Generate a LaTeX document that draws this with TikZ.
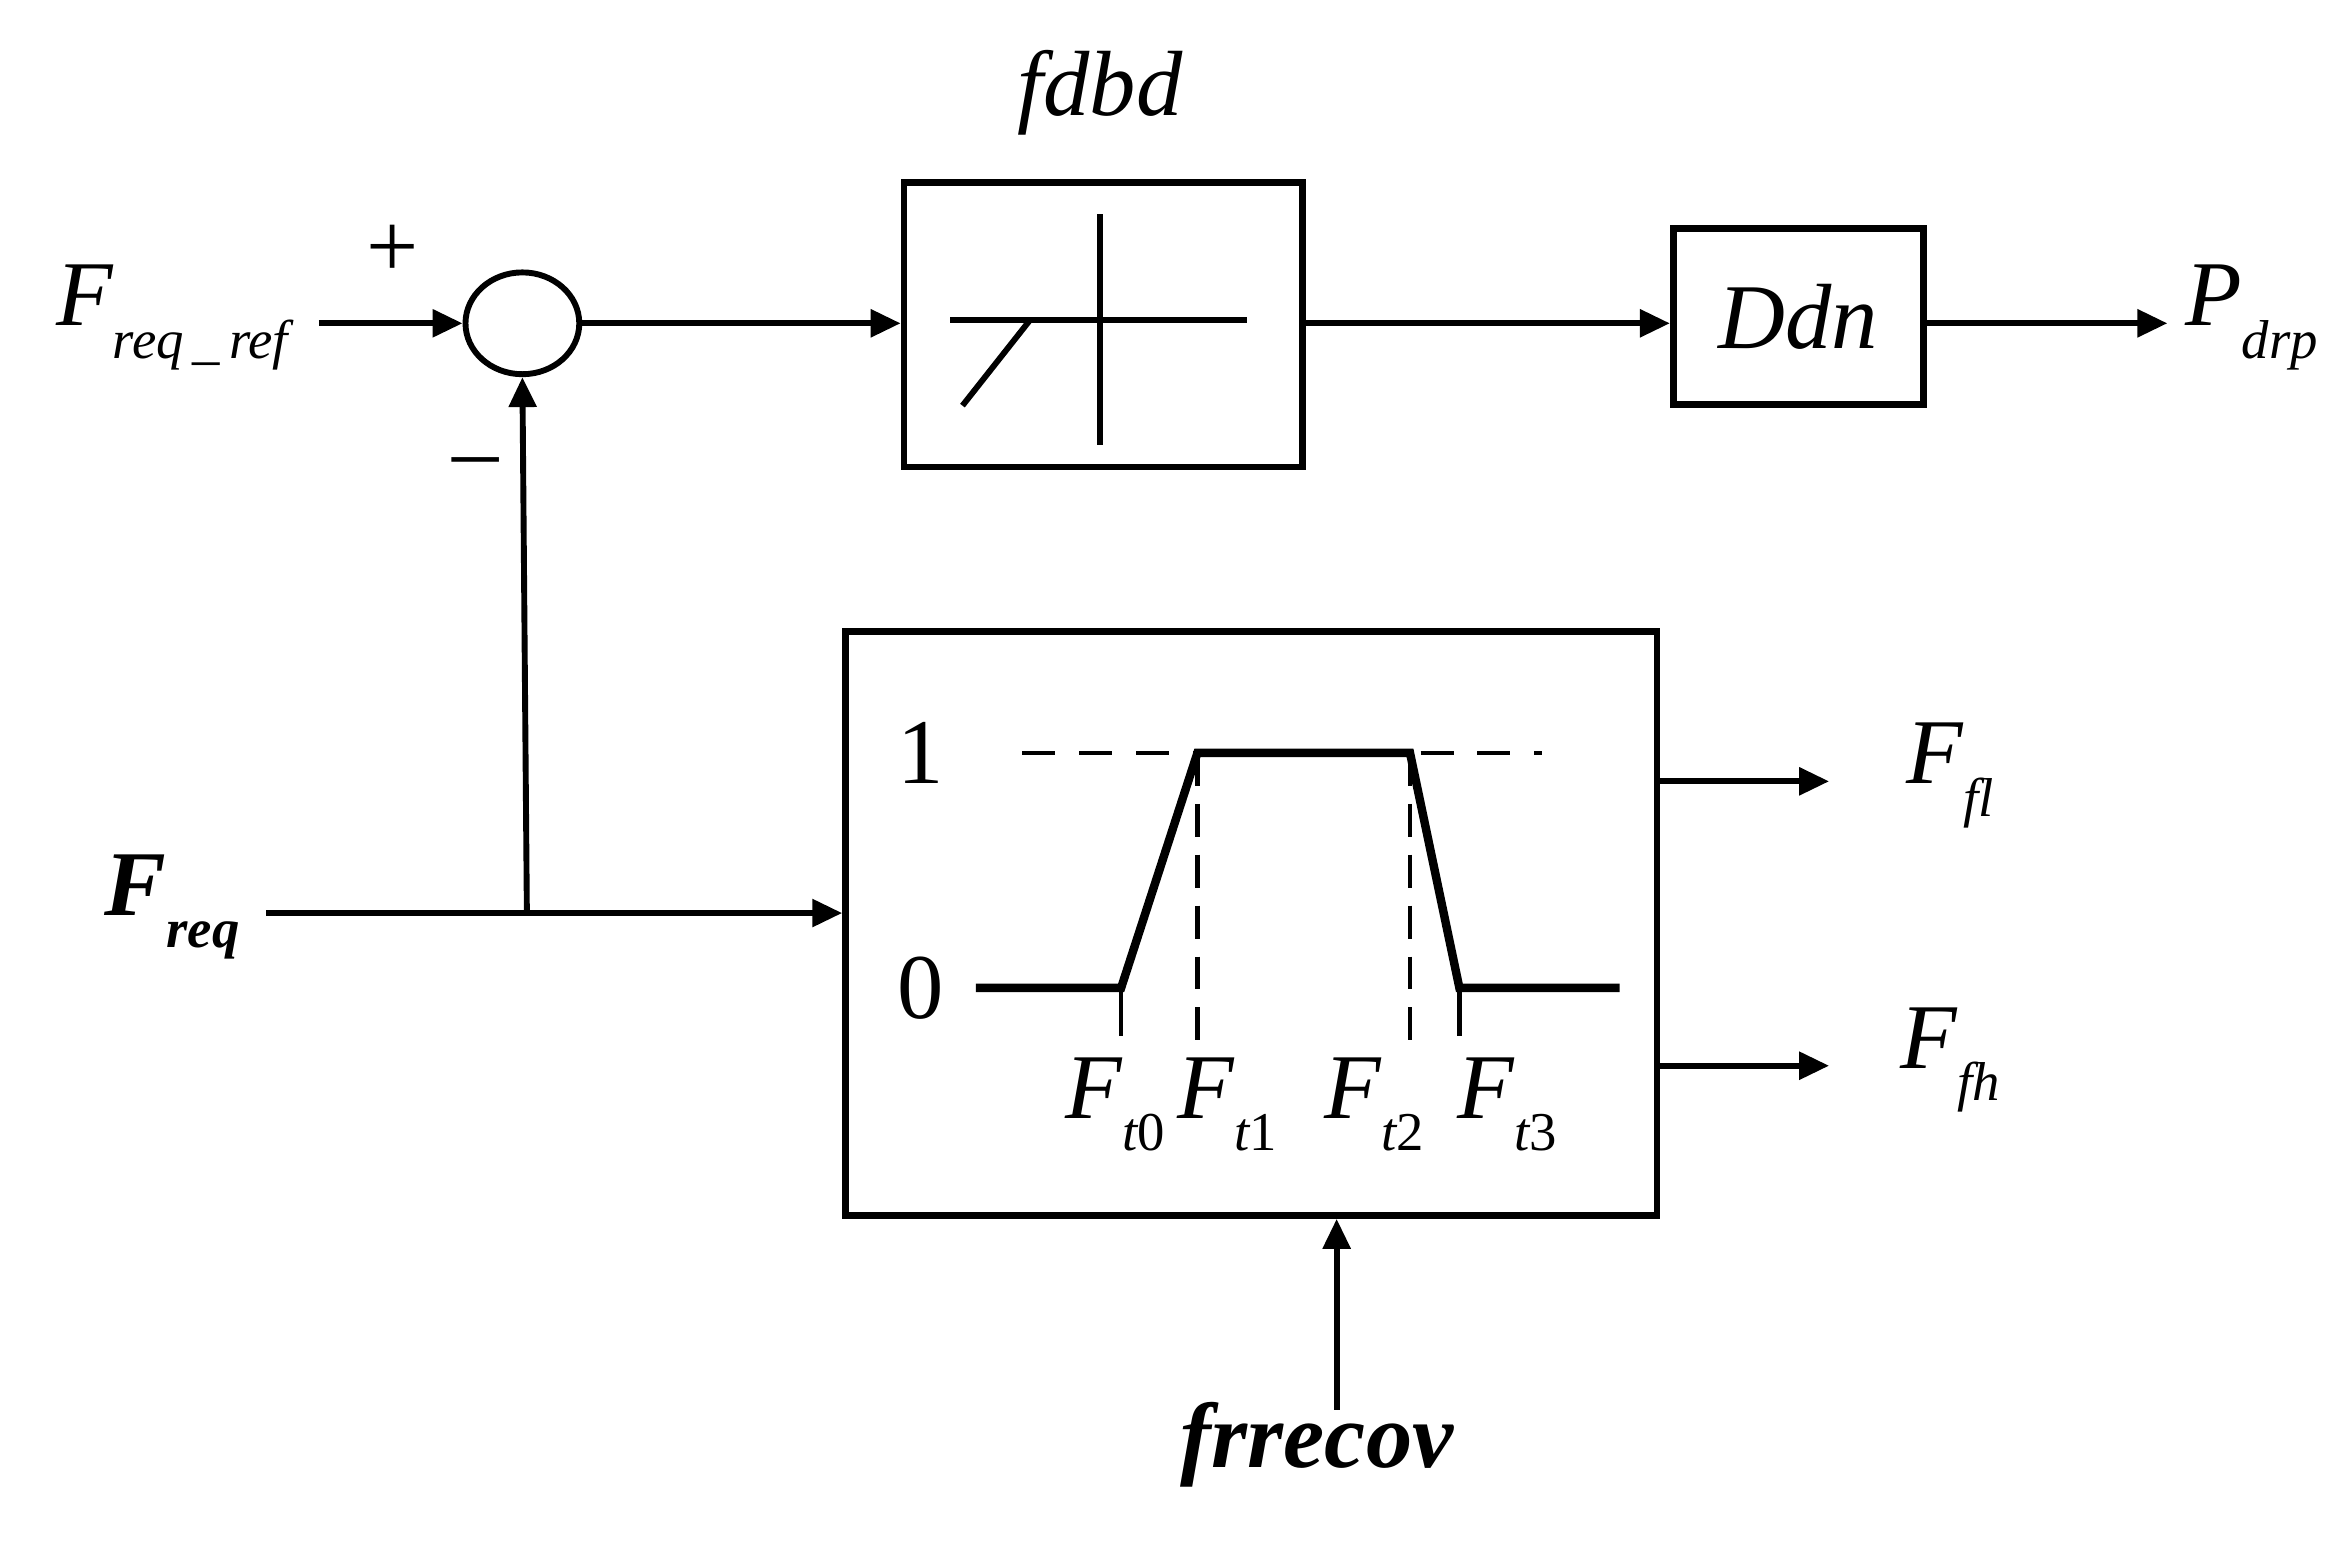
\documentclass[tikz,border=0pt]{standalone}
\usepackage{fontspec}
\setmainfont{Liberation Serif}
\usetikzlibrary{arrows.meta,shapes.geometric}
\newcommand{\mysub}[3][\itshape]{{#1#2}\raisebox{-0.35em}{\fontsize{26}{28}\selectfont#1#3}}
\begin{document}
\begin{tikzpicture}[x=0.025cm,y=-0.025cm,
  ln/.style={line width=2.8pt},
  ar/.style={line width=2.8pt,-{Triangle[length=0.5cm,width=0.45cm]}},
  txt/.style={font=\fontsize{44}{48}\selectfont},
  box/.style={draw,line width=3.2pt,inner sep=0pt}]
\useasboundingbox (0,0) rectangle (1564,1036);
\node[draw,ellipse,line width=2.8pt,minimum width=1.9cm,minimum height=1.7cm,inner sep=0pt] (sum) at (349,216) {};
\coordinate (in) at (213,216);
\node[txt] (lref) at (115,212) {\mysub{F}{req\,\_\,ref}};
\node[txt] (plus) at (262,168) {+};
\node[txt] (minus) at (318,314) {\textendash};
\node[box,minimum width=6.65cm,minimum height=4.75cm] (b1) at (737,217) {};
\node[txt] (fdbd) at (735,62) {\itshape fdbd};
\node[box,minimum width=4.18cm,minimum height=2.93cm,txt] (ddn) at (1201.5,211.5) {\itshape Ddn};
\coordinate (pout) at (1448,216);
\node[txt,anchor=west] (pdrp) at (1455,212) {\mysub{P}{drp}};
\node[box,minimum width=13.55cm,minimum height=9.75cm] (b2) at (836,617) {};
\coordinate (fin) at (178,610);
\coordinate (j) at (352,610);
\node[txt] (lfreq) at (115,606) {\mysub[\bfseries\itshape]{F}{req}};
\draw[ln] (fin) -- (j);
\draw[ar] (j) -- (b2.west |- j);
\draw[ar] (j) -- (sum.south);
\draw[ar] (in) -- (sum.west);
\draw[ar] (sum.east) -- (b1.west |- sum);
\draw[ar] (b1.east |- sum) -- (ddn.west |- sum);
\draw[ar] (ddn.east |- pout) -- (pout);
% deadband symbol
\draw[ln] (635,214) -- (833,214);
\draw[ln] (735,143) -- (735,297);
\draw[ln] (643,271) -- (688,214);
% trapezoid
\node[txt] (one) at (615,503) {1};
\node[txt] (zero) at (615,660) {0};
\draw[line width=2pt,dash pattern=on 0.55cm off 0.4cm] (683,503) -- (1030,503);
\draw[line width=4pt] (652,660) -- (749,660) -- (800,503) -- (942,503) -- (975,660) -- (1082,660);
\draw[line width=2pt,dash pattern=on 0.55cm off 0.3cm] (800,503) -- (800,697);
\draw[line width=2pt,dash pattern=on 0.55cm off 0.3cm] (942,503) -- (942,697);
\draw[line width=2pt] (749,660) -- (749,692);
\draw[line width=2pt] (975,660) -- (975,692);
\node[txt] (t0) at (745,738) {\mysub[\itshape]{F}{t\upshape 0}};
\node[txt] (t1) at (820,738) {\mysub[\itshape]{F}{t\upshape 1}};
\node[txt] (t2) at (918,738) {\mysub[\itshape]{F}{t\upshape 2}};
\node[txt] (t3) at (1007,738) {\mysub[\itshape]{F}{t\upshape 3}};
\coordinate (ofl) at (1222,522);
\coordinate (ofh) at (1222,712);
\draw[ar] (b2.east |- ofl) -- (ofl);
\draw[ar] (b2.east |- ofh) -- (ofh);
\node[txt] (ffl) at (1303,518) {\mysub{F}{fl}};
\node[txt] (ffh) at (1303,708) {\mysub{F}{fh}};
\coordinate (fr) at (893,942);
\draw[ar] (fr) -- (fr |- b2.south);
\node[txt] (frr) at (880,965) {\bfseries\itshape frrecov};
\end{tikzpicture}
\end{document}
